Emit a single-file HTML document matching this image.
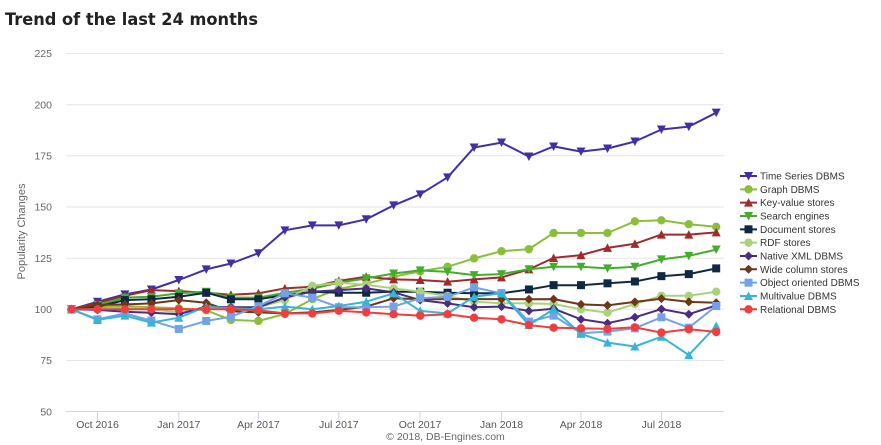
<!DOCTYPE html>
<html>
<head>
<meta charset="utf-8">
<style>
html,body{margin:0;padding:0;background:#fff;}
svg{display:block;}
text{font-family:"Liberation Sans",Arial,sans-serif;}
</style>
</head>
<body>
<svg id="c" width="881" height="445" viewBox="0 0 881 445" xmlns="http://www.w3.org/2000/svg">
<rect x="0" y="0" width="881" height="445" fill="#fff"/>
<text x="5" y="25" style="font-family:'DejaVu Sans','Liberation Sans',sans-serif;font-weight:bold;font-size:17px;" fill="#222" textLength="253" lengthAdjust="spacingAndGlyphs">Trend of the last 24 months</text>
<g stroke="#e6e6e6" stroke-width="1">
<line x1="66" x2="724" y1="53.5" y2="53.5"/>
<line x1="66" x2="724" y1="104.7" y2="104.7"/>
<line x1="66" x2="724" y1="155.8" y2="155.8"/>
<line x1="66" x2="724" y1="207" y2="207"/>
<line x1="66" x2="724" y1="258.2" y2="258.2"/>
<line x1="66" x2="724" y1="309.3" y2="309.3"/>
<line x1="66" x2="724" y1="360.5" y2="360.5"/>
</g>
<line x1="66" x2="724" y1="411.5" y2="411.5" stroke="#ccd6eb" stroke-width="1"/>
<g stroke="#ccd6eb" stroke-width="1">
<line x1="97.5" x2="97.5" y1="411.5" y2="421"/>
<line x1="178.8" x2="178.8" y1="411.5" y2="421"/>
<line x1="258.4" x2="258.4" y1="411.5" y2="421"/>
<line x1="338.8" x2="338.8" y1="411.5" y2="421"/>
<line x1="420" x2="420" y1="411.5" y2="421"/>
<line x1="501.5" x2="501.5" y1="411.5" y2="421"/>
<line x1="581" x2="581" y1="411.5" y2="421"/>
<line x1="661.5" x2="661.5" y1="411.5" y2="421"/>
</g>
<g font-size="10.5" fill="#666" text-anchor="end">
<text x="52" y="57">225</text>
<text x="52" y="108.5">200</text>
<text x="52" y="159.5">175</text>
<text x="52" y="210.7">150</text>
<text x="52" y="261.9">125</text>
<text x="52" y="313">100</text>
<text x="52" y="364.2">75</text>
<text x="52" y="415.3">50</text>
</g>
<text transform="translate(25,231.5) rotate(-90)" text-anchor="middle" font-size="11" fill="#666">Popularity Changes</text>
<g font-size="10.5" fill="#555" text-anchor="middle">
<text x="97.5" y="428">Oct 2016</text>
<text x="178.8" y="428">Jan 2017</text>
<text x="258.4" y="428">Apr 2017</text>
<text x="338.8" y="428">Jul 2017</text>
<text x="420" y="428">Oct 2017</text>
<text x="501.5" y="428">Jan 2018</text>
<text x="581" y="428">Apr 2018</text>
<text x="661.5" y="428">Jul 2018</text>
</g>
<text x="445.5" y="440" text-anchor="middle" font-size="10.5" fill="#666">© 2018, DB-Engines.com</text>
<g id="series"></g>
<g id="legend" font-size="10" fill="#333">
<text x="760" y="179.5">Time Series DBMS</text>
<text x="760" y="192.8">Graph DBMS</text>
<text x="760" y="206.2">Key-value stores</text>
<text x="760" y="219.5">Search engines</text>
<text x="760" y="232.8">Document stores</text>
<text x="760" y="246.2">RDF stores</text>
<text x="760" y="259.5">Native XML DBMS</text>
<text x="760" y="272.8">Wide column stores</text>
<text x="760" y="286.2">Object oriented DBMS</text>
<text x="760" y="299.5">Multivalue DBMS</text>
<text x="760" y="312.8">Relational DBMS</text>
</g>
<g id="legsym"></g>
</svg>
<script>
(function(){
var NS="http://www.w3.org/2000/svg";
var X=[71.5,97.5,124.9,151.4,178.8,206.2,230.9,258.4,284.9,312.3,338.8,366.2,393.6,420.2,447.6,474.1,501.5,528.9,553.6,581.0,607.5,634.9,661.4,688.8,716.2];
function Y(v){return 309.3-(v-100)*2.046;}
var S=[
{c:"#4030a8",m:"tdown",d:[100,103.7,107.3,109.7,114.3,119.5,122.4,127.4,138.6,141,141,144,150.8,156.2,164.5,179.1,181.5,174.7,179.6,177.1,178.6,182,187.9,189.3,196.1]},
{c:"#8abf3c",m:"circle",d:[100,101,101.5,101,100.5,99.5,94.8,94.3,97.7,105,110,112.5,116,118.5,120.8,124.9,128.4,129.4,137.3,137.3,137.3,143,143.5,141.6,140.3]},
{c:"#a12a2c",m:"tup",d:[100,103.2,106.6,109.4,108.9,108.1,107.1,107.8,110.2,111,113.9,115.9,114.6,114.3,113.5,114.6,115.6,119.5,125.1,126.5,130,132,136.5,136.5,137.6]},
{c:"#44ad2e",m:"tdown",d:[100,102.1,105.7,106.1,107.8,108.6,105.7,105.7,108,110,113,115.1,117.5,119,118.3,116.7,117.2,119.6,120.8,120.8,120,120.8,124.4,126.1,129.2]},
{c:"#0f2943",m:"square",d:[100,101.3,104.5,104.9,106.1,108.1,104.9,104.9,107,108.6,108.1,108.1,108.6,108.6,108.1,107.8,107.8,109.7,111.8,111.8,112.7,113.6,116.2,117.2,120]},
{c:"#a8d37c",m:"circle",d:[100,100,100.5,100,98.5,100.5,101,101,104.5,111.5,113,112,110.2,108.6,106.5,103.7,103,102.9,102.6,100,98.4,102.6,106.6,106.6,108.6]},
{c:"#4b2c80",m:"diamond",d:[100,99.7,98.8,98.3,97.6,101.3,101,101,105.8,108.6,109.4,110.2,108.3,104.5,102.9,101,101.3,99.2,100.3,95.1,93.2,96.1,100.1,97.6,101.9]},
{c:"#6e3719",m:"diamond",d:[100,102.1,102.4,102.9,104.5,103.2,99,98.5,98,98.5,99.7,101.3,105.4,104.9,105,105,105,104.9,105,102.4,101.9,103.6,105.2,103.6,103.2]},
{c:"#72a3e8",m:"square",d:[100,95.1,98,94.5,90.4,94.3,96.4,101.5,107.8,105.7,101,101,101.3,105.4,106.1,110.7,107.8,94,96.9,88.3,89.1,90.7,96.1,91,101.6]},
{c:"#37b4d6",m:"tup",d:[100,94.8,96.9,93.5,95.9,101.3,100.5,100,101.3,100,101.6,103.7,107.8,99.2,98,106.1,107.8,92.3,100.1,88,83.7,81.8,86.6,77.6,91.9]},
{c:"#f03e3e",m:"circle",d:[100,100,100,100,100,100,100,99.5,98,98,99.3,98.5,97.6,96.9,97.6,95.9,95.1,92.3,91,90.7,90.4,91.2,88.6,90.3,88.9]}
];
function marker(g,type,x,y,c){
  var e;
  if(type==="circle"){e=document.createElementNS(NS,"circle");e.setAttribute("cx",x);e.setAttribute("cy",y);e.setAttribute("r",4.2);}
  else if(type==="square"){e=document.createElementNS(NS,"rect");e.setAttribute("x",x-4);e.setAttribute("y",y-4);e.setAttribute("width",8);e.setAttribute("height",8);}
  else {
    e=document.createElementNS(NS,"path");var p;
    if(type==="tdown")p="M"+(x-4.5)+","+(y-4)+"L"+(x+4.5)+","+(y-4)+"L"+x+","+(y+4.5)+"Z";
    else if(type==="tup")p="M"+(x-4.5)+","+(y+4)+"L"+(x+4.5)+","+(y+4)+"L"+x+","+(y-4.5)+"Z";
    else p="M"+x+","+(y-4.5)+"L"+(x+4.5)+","+y+"L"+x+","+(y+4.5)+"L"+(x-4.5)+","+y+"Z";
    e.setAttribute("d",p);
  }
  e.setAttribute("fill",c);
  g.appendChild(e);
}
var sg=document.getElementById("series");
var lg=document.getElementById("legsym");
S.forEach(function(s,k){
  var g=document.createElementNS(NS,"g");
  var pts=s.d.map(function(v,i){return X[i]+","+Y(v).toFixed(1);}).join(" ");
  var pl=document.createElementNS(NS,"polyline");
  pl.setAttribute("points",pts);pl.setAttribute("fill","none");pl.setAttribute("stroke",s.c);
  pl.setAttribute("stroke-width","2");pl.setAttribute("stroke-linejoin","round");pl.setAttribute("stroke-linecap","round");
  g.appendChild(pl);
  s.d.forEach(function(v,i){marker(g,s.m,X[i],Y(v),s.c);});
  sg.appendChild(g);
  var ly=176+k*13.33;
  var ll=document.createElementNS(NS,"line");
  ll.setAttribute("x1",740);ll.setAttribute("x2",757);ll.setAttribute("y1",ly);ll.setAttribute("y2",ly);
  ll.setAttribute("stroke",s.c);ll.setAttribute("stroke-width","2");
  lg.appendChild(ll);
  marker(lg,s.m,748.5,ly,s.c);
});
})();
</script>
</body>
</html>
